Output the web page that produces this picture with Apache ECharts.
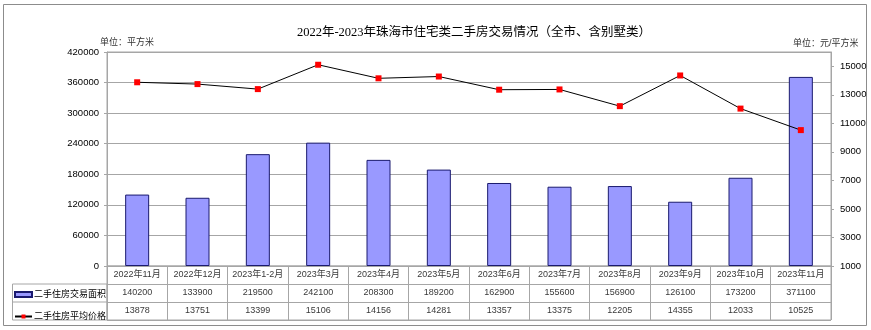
<!DOCTYPE html>
<html>
<head>
<meta charset="utf-8">
<script src="https://cdn.jsdelivr.net/npm/echarts@6/dist/echarts.min.js"></script>
<style>
  html, body { margin: 0; padding: 0; background: #fff; }
  #chart { width: 871px; height: 330px; }
</style>
</head>
<body>
<div id="chart"></div>
<script>
// Monthly second-hand housing transactions, Zhuhai (incl. villas)
const months = ['2022年11月', '2022年12月', '2023年1-2月', '2023年3月', '2023年4月', '2023年5月',
  '2023年6月', '2023年7月', '2023年8月', '2023年9月', '2023年10月', '2023年11月'];
const areaSold = [140200, 133900, 219500, 242100, 208300, 189200, 162900, 155600, 156900, 126100, 173200, 371100];
const avgPrice = [13878, 13751, 13399, 15106, 14156, 14281, 13357, 13375, 12205, 14355, 12033, 10525];
const priceTicks = [1000, 3000, 5000, 7000, 9000, 11000, 13000, 15000];

const areaName = '二手住房交易面积';
const priceName = '二手住房平均价格';

const SANS = '"Liberation Sans", Arial, "Noto Sans CJK SC", sans-serif';
const GRID_GRAY = '#a6a6a6';
const plain = v => String(v);

const chart = echarts.init(document.getElementById('chart'), null, { renderer: 'canvas' });

// rows of the data table below the plot (y = row centre in table units)
const tableRow = (values, y) => values.map((v, i) => ({ value: [i, y], text: String(v) }));
const tableSeries = (values, y) => ({
  type: 'scatter',
  xAxisIndex: 1,
  yAxisIndex: 2,
  symbolSize: 0,
  silent: true,
  data: tableRow(values, y),
  label: {
    show: true,
    position: 'inside',
    formatter: p => p.data.text,
    color: '#000',
    fontSize: 9,
    fontFamily: SANS
  }
});

chart.setOption({
  backgroundColor: '#fff',
  animation: false,
  title: [
    {
      text: '2022年-2023年珠海市住宅类二手房交易情况（全市、含别墅类）',
      left: 469, top: 21, textAlign: 'center',
      textStyle: { fontSize: 12.5, fontWeight: 'normal', color: '#000',
        fontFamily: '"Liberation Serif", "Noto Sans CJK SC", serif' }
    },
    {
      text: '单位：平方米', left: 95, top: 33,
      textStyle: { fontSize: 9, fontWeight: 'normal', color: '#333', fontFamily: SANS }
    },
    {
      text: '单位：元/平方米', left: 788, top: 34,
      textStyle: { fontSize: 9, fontWeight: 'normal', color: '#333', fontFamily: SANS }
    }
  ],
  legend: {
    orient: 'vertical',
    left: 14,
    top: 290,
    itemWidth: 17,
    itemHeight: 5,
    itemGap: 13,
    padding: 0,
    selectedMode: false,
    data: [{ name: areaName, icon: 'rect' }, { name: priceName }],
    textStyle: { fontSize: 9, color: '#000', fontFamily: SANS, padding: [0, 0, 0, -3] }
  },
  grid: [
    { left: 107, right: 40, top: 52, height: 214, show: true, borderColor: GRID_GRAY, borderWidth: 1 },
    { left: 107, right: 40, top: 266, height: 54, show: true, borderColor: GRID_GRAY, borderWidth: 1 }
  ],
  xAxis: [
    {
      type: 'category', gridIndex: 0, data: months, boundaryGap: true,
      axisLine: { show: true, lineStyle: { color: GRID_GRAY } },
      axisTick: { show: false }, axisLabel: { show: false }
    },
    {
      type: 'category', gridIndex: 1, data: months, boundaryGap: true,
      axisLine: { show: false }, axisTick: { show: false }, axisLabel: { show: false },
      splitLine: { show: true, interval: 0, lineStyle: { color: GRID_GRAY } }
    }
  ],
  yAxis: [
    {
      type: 'value', gridIndex: 0, min: 0, max: 420000, interval: 60000,
      axisLine: { show: true, lineStyle: { color: GRID_GRAY } },
      axisTick: { show: true, length: 3, lineStyle: { color: GRID_GRAY } },
      axisLabel: { formatter: plain, fontSize: 9.5, color: '#000', fontFamily: SANS, margin: 8 },
      splitLine: { show: true, lineStyle: { color: GRID_GRAY, width: 1.2 } }
    },
    {
      type: 'value', gridIndex: 0, position: 'right', min: 1000, max: 16000,
      axisLine: { show: true, lineStyle: { color: GRID_GRAY } },
      axisTick: { show: true, length: 3, customValues: priceTicks, lineStyle: { color: GRID_GRAY } },
      axisLabel: { customValues: priceTicks, formatter: plain, fontSize: 9.5, color: '#000',
        fontFamily: SANS, margin: 9 },
      splitLine: { show: false }
    },
    {
      type: 'value', gridIndex: 1, min: 0, max: 3, interval: 1,
      axisLine: { show: false }, axisTick: { show: false }, axisLabel: { show: false },
      splitLine: { show: true, lineStyle: { color: GRID_GRAY } }
    }
  ],
  graphic: [
    // outer frame of the whole figure
    { type: 'rect', shape: { x: 3.5, y: 4.5, width: 863, height: 321 },
      style: { fill: 'none', stroke: '#8c8c8c', lineWidth: 1 }, silent: true },
    // legend column of the data table
    { type: 'rect', shape: { x: 12.5, y: 284, width: 94.5, height: 36 },
      style: { fill: 'none', stroke: GRID_GRAY, lineWidth: 1 }, silent: true },
    { type: 'line', shape: { x1: 12.5, y1: 302, x2: 107, y2: 302 },
      style: { stroke: GRID_GRAY, lineWidth: 1 }, silent: true }
  ],
  series: [
    {
      name: areaName, type: 'bar', xAxisIndex: 0, yAxisIndex: 0,
      data: areaSold, barWidth: 24,
      itemStyle: { color: '#9999ff', borderColor: '#1a1a6e', borderWidth: 1 }
    },
    {
      name: priceName, type: 'line', xAxisIndex: 0, yAxisIndex: 1,
      data: avgPrice, symbol: 'rect', symbolSize: 6,
      lineStyle: { color: '#000', width: 1 },
      itemStyle: { color: '#ff0000' }
    },
    tableSeries(months, 2.5),
    tableSeries(areaSold, 1.5),
    tableSeries(avgPrice, 0.5)
  ]
});
</script>
</body>
</html>
